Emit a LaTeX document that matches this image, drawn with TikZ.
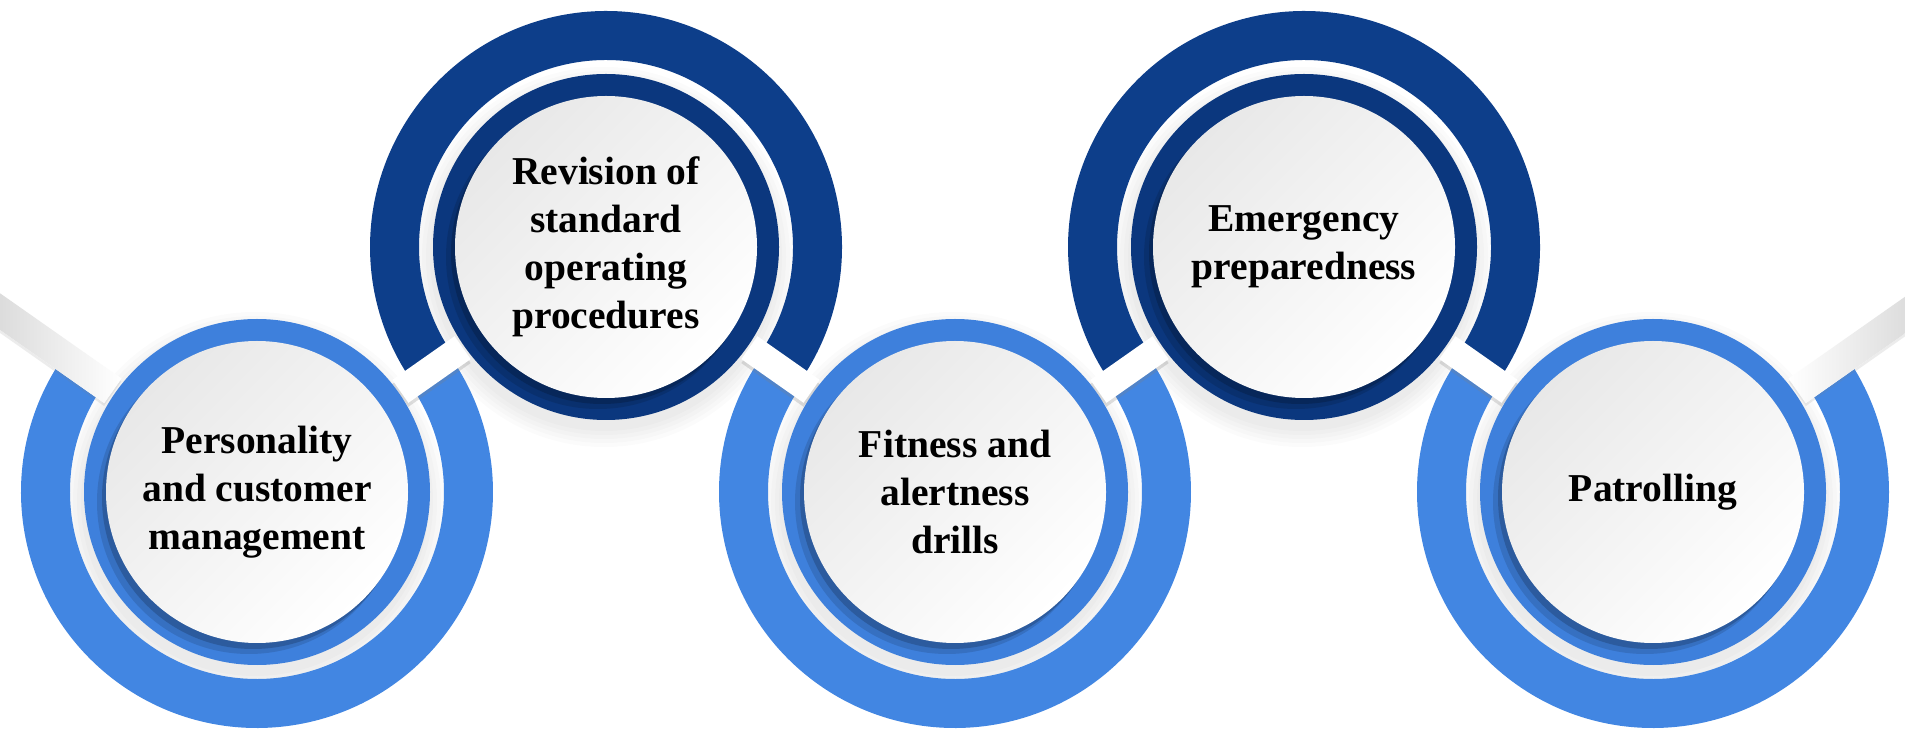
\documentclass[tikz,border=0pt]{standalone}
\usepackage{fontspec}
\setmainfont{Liberation Serif}
\usetikzlibrary{calc,shadows}
\definecolor{lblue}{RGB}{66,134,226}
\definecolor{dblue}{RGB}{13,62,138}
\definecolor{lring}{RGB}{62,128,220}
\definecolor{dring}{RGB}{11,55,126}
\begin{document}
\begin{tikzpicture}[x=1pt,y=1pt,
  ribbon/.style={line width=49pt},
  txt/.style={font=\fontsize{39.5}{48}\selectfont\bfseries, align=center, text=black, inner sep=0pt},
  strap/.style={fill=white, draw=none, inner sep=0pt, minimum width=76pt, minimum height=28pt,
     drop shadow={opacity=0.25, shadow xshift=0pt, shadow yshift=-4pt}},
  endstrap/.style={fill=white, draw=none, inner sep=0pt, minimum width=194pt, minimum height=30pt,
     drop shadow={opacity=0.15, shadow xshift=0pt, shadow yshift=-3pt}},
]
\useasboundingbox (0,0) rectangle (1905,728);
\fill[white] (0,0) rectangle (1905,728);
\begin{scope}
\clip (0,0) rectangle (1905,728);
% centres
\coordinate (c0) at (-92,481);
\coordinate (c1) at (257,236);
\coordinate (c2) at (606,481);
\coordinate (c3) at (955,236);
\coordinate (c4) at (1304,481);
\coordinate (c5) at (1653,236);
\coordinate (c6) at (2002,481);
% joints
\coordinate (j01) at ($(c0)!0.5!(c1)$);
\coordinate (j12) at ($(c1)!0.5!(c2)$);
\coordinate (j23) at ($(c2)!0.5!(c3)$);
\coordinate (j34) at ($(c3)!0.5!(c4)$);
\coordinate (j45) at ($(c4)!0.5!(c5)$);
\coordinate (j56) at ($(c5)!0.5!(c6)$);
% soft shadows of the inner rings
\foreach \c in {c1,c2,c3,c4,c5}{
  \foreach \r in {174,178,182,186,190}{
    \fill[black,opacity=0.014] ($(\c)+(-2,-10)$) circle[radius=\r];
  }
}
% ribbon
\draw[ribbon,lblue] (c1) ++(144.93:211.5) arc[start angle=144.93,end angle=395.07,radius=211.5];
\draw[ribbon,dblue] (c2) ++(-35.07:211.5) arc[start angle=-35.07,end angle=215.07,radius=211.5];
\draw[ribbon,lblue] (c3) ++(144.93:211.5) arc[start angle=144.93,end angle=395.07,radius=211.5];
\draw[ribbon,dblue] (c4) ++(-35.07:211.5) arc[start angle=-35.07,end angle=215.07,radius=211.5];
\draw[ribbon,lblue] (c5) ++(144.93:211.5) arc[start angle=144.93,end angle=395.07,radius=211.5];
% straps
\node[endstrap, rotate=-35.07, left color=black!20, middle color=white, right color=white] (s01) at ($(j01)+(144.93:60)$) {};
\node[strap, rotate=35.07] (s12) at (j12) {};
\node[strap, rotate=-35.07] (s23) at (j23) {};
\node[strap, rotate=35.07] (s34) at (j34) {};
\node[strap, rotate=-35.07] (s45) at (j45) {};
\node[endstrap, rotate=35.07, left color=white, middle color=white, right color=black!20] (s56) at ($(j56)+(35.07:60)$) {};
% inner rings and discs
\foreach \c/\col in {c1/lring,c2/dring,c3/lring,c4/dring,c5/lring}{
  \fill[\col] (\c) circle[radius=173];
  \fill[black,opacity=0.12] ($(\c)+(-8,-10)$) circle[radius=152];
  \fill[black,opacity=0.18] ($(\c)+(-4,-6)$) circle[radius=151];
  \shade[top color=black!9, bottom color=white, shading angle=45] (\c) circle[radius=151];
}
% texts
\node[txt] (t1) at (c1) {Personality\\and customer\\management};
\node[txt] (t2) at (c2) {Revision of\\standard\\operating\\procedures};
\node[txt] (t3) at (c3) {Fitness and\\alertness\\drills};
\node[txt] (t4) at (c4) {Emergency\\preparedness};
\node[txt] (t5) at (c5) {Patrolling};
\end{scope}
\end{tikzpicture}
\end{document}
